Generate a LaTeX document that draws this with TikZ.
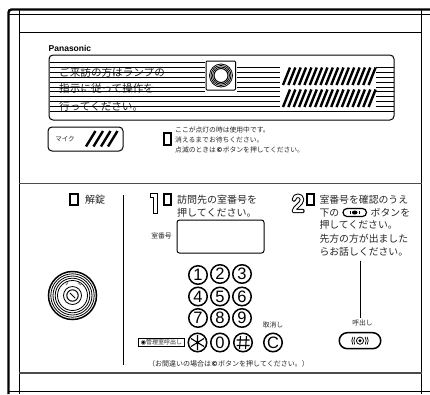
\documentclass[tikz,border=0pt]{standalone}
\usepackage{fontspec}
\usetikzlibrary{shapes.misc}
\setmainfont{Liberation Sans}
\newfontfamily\jp{Noto Sans CJK JP}
\newfontfamily\djv{DejaVu Sans}
\newcommand{\csym}{\textcolor{black}{{\djv\bfseries ©}}}
\tikzset{
 frameline/.style={line width=1pt,black},
 grayline/.style={line width=1.6pt,black!70},
 slash/.style={line width=2.4pt,black},
 grille/.style={line width=.75pt,black},
 lamp/.style={draw,line width=2pt,minimum width=7.5pt,minimum height=11.5pt,inner sep=0pt},
 jptext/.style={inner sep=0pt,anchor=west,text=black!85,font=\jp\fontsize{#1}{#1}\selectfont},
 jpmid/.style={inner sep=0pt,anchor=center,text=black!85,font=\jp\fontsize{#1}{#1}\selectfont},
 keycap/.style={draw,circle,line width=1.5pt,minimum size=18.5pt,inner sep=0pt,font=\fontsize{16.5}{16.5}\selectfont},
}
\begin{document}
\begin{tikzpicture}[x=1pt,y=-1pt]
\useasboundingbox (0,0) rectangle (430,394);
\fill[white] (0,0) rectangle (430,394);
% frame
\draw[line width=2.4pt] (8.5,394) -- (8.5,14) [rounded corners=3pt] -- (8.5,9.5) -- (430,9.5);
\draw[frameline] (9,14) -- (430,14);
\draw[frameline] (19,10) -- (19,394);
\draw[frameline] (421.5,10) -- (421.5,394);
\draw[frameline] (19,32) -- (421.5,32);
\draw[grayline] (19,183.5) -- (421.5,183.5);
\draw[grayline] (19,373) -- (421.5,373);
\draw[frameline] (9,391.5) -- (430,391.5);
% panel text
\node[jptext=10.6] (s1) at (59,72) {ご来訪の方はランプの};
\node[jptext=10.6] (s2) at (59,88.5) {指示に従って操作を};
\node[jptext=10.6] (s3) at (59,106) {行ってください。};
% grille lines
\foreach \y in {62.7,67.7,72.5,77.3,82,87,91.7}{
  \draw[grille] (49.5,\y) -- (205,\y);}
\foreach \y in {96.5,101.3,106}{
  \draw[grille] (49.5,\y) -- (280,\y);}
\draw[grille] (49.5,111.5) -- (393.5,111.5);
\foreach \y in {67.7,72.5,77.3,82,87,91.7}{
  \draw[grille] (237,\y) -- (280,\y);}
\foreach \y in {67.7,72.5,77.3,82,87,91.7,96.5,101.3,106}{
  \draw[grille] (376,\y) -- (393.5,\y);}
% panel outline
\draw[line width=1pt,rounded corners=4pt] (49,55) rectangle (394,120);
\node[inner sep=0pt,anchor=west,font=\bfseries\fontsize{8.5}{8.5}\selectfont] (pana) at (48.5,48) {Panasonic};
% lamp box
\draw[line width=1pt,rounded corners=1pt,fill=white] (206,61) rectangle (235.5,90);
\foreach \r/\w in {11.5/.8,10/.8,8.5/.8,7/1}{\draw[line width=\w pt] (221,75.5) circle (\r);}
% slashes
\foreach \i in {0,...,16}{
  \draw[slash] ({283+5.35*\i},85) -- ({290+5.35*\i},67.5);
  \draw[slash] ({283+5.35*\i},107) -- ({290+5.35*\i},89.5);
}
% mic
\draw[line width=1pt,rounded corners=4pt] (48,127) rectangle (123,151);
\node[jpmid=6.5] (mic) at (65,139) {マイク};
\foreach \x in {86,93.5,101,108}{\draw[line width=2.4pt] (\x,146.5) -- (\x+9.5,131);}
% indicator notes
\node[lamp] (l0) at (167.5,139) {};
\node[jptext=6.8] (n1) at (175,130) {ここが点灯の時は使用中です。};
\node[jptext=6.8] (n2) at (175,140) {消えるまでお待ちください。};
\node[jptext=6.8] (n3) at (175,150) {点滅のときは\csym ボタンを押してください。};
% left column
\node[lamp] (l1) at (74,199.5) {};
\node[jpmid=10] (unlock) at (95,200) {解錠};
\draw[frameline] (123,195) -- (123,365);
% key
\foreach \r/\w in {24/1.5,21.7/.8,19.5/.8,17.3/.8,15/.8,9/.8,5.7/1}{\draw[line width=\w pt] (72.5,295.5) circle (\r);}
\draw[line width=1.2pt,black!45] (66,285) -- (68,282.5);
\draw[line width=1.2pt,black!45] (78,282.5) -- (81,285);
\draw[line width=1pt] (70,293) -- (75,298);
% step 1
\draw[line width=1pt,fill=white] (150.5,193.5) -- (157.5,193.5) -- (157.5,213) -- (153,213) -- (153,197) -- (150.5,197) -- cycle;
\node[lamp] (l2) at (167.5,199.5) {};
\node[jptext=10] (a1) at (177,200) {訪問先の室番号を};
\node[jptext=10] (a2) at (177,213) {押してください。};
\draw[line width=1pt,rounded corners=2.5pt] (177,220) rectangle (264,253);
\node[jpmid=6.8] (room) at (161.5,236) {室番号};
% keypad
\node[keycap] (k1) at (198,275) {1};
\node[keycap] (k2) at (220,274) {2};
\node[keycap] (k3) at (242,274) {3};
\node[keycap] (k4) at (198,296.5) {4};
\node[keycap] (k5) at (220,296.5) {5};
\node[keycap] (k6) at (242,296.5) {6};
\node[keycap] (k7) at (198,318) {7};
\node[keycap] (k8) at (220,318) {8};
\node[keycap] (k9) at (242,318) {9};
\node[keycap] (kstar) at (197.5,342.5) {};
\node[keycap] (k0) at (220,342.5) {0};
\node[keycap] (khash) at (243,342.5) {};
\node[keycap] (kc) at (273,342.5) {C};
\draw[line width=1.1pt] (197.5,335) -- (197.5,350) (191,338.5) -- (204,346.5) (191,346.5) -- (204,338.5);
\draw[line width=1.1pt] (240.5,336) -- (239.5,349) (246.5,336) -- (245.5,349) (236.5,340) -- (249.5,340) (236.5,345.5) -- (249.5,345.5);
\node[jpmid=6.8] (cancel) at (273,325) {取消し};
\draw[line width=.8pt] (138.5,338.5) rectangle (184.5,346);
\node[jpmid=6] (mgr) at (161.5,342.3) {\textcolor{black}{{\djv ◉}}管理室呼出し};
\node[jptext=7] (foot) at (148,363.5) {（お間違いの場合は\csym ボタンを押してください。）};
% step 2
\draw[line width=4.4pt,line cap=round,line join=round] (294,199.5) .. controls (294,194.5) and (302,194.5) .. (302,199.5) .. controls (302,204) and (294.5,207) .. (293.8,211) -- (302.5,211);
\draw[line width=2.4pt,white,line cap=round,line join=round] (294,199.5) .. controls (294,194.5) and (302,194.5) .. (302,199.5) .. controls (302,204) and (294.5,207) .. (293.8,211) -- (302.5,211);
\node[lamp] (l3) at (310.5,199.5) {};
\node[jptext=9.85] (b1) at (319.3,199.5) {室番号を確認のうえ};
\node[jptext=9.85] (b2a) at (319.3,212.7) {下の};
\draw[line width=1.2pt,rounded corners=4pt] (343,208.5) rectangle (366.5,216.5);
\fill (354.7,212.5) ellipse (2.8 and 2);
\draw[line width=.7pt] (350,210.8) -- (350,214.2) (359.4,210.8) -- (359.4,214.2);
\node[jptext=9.85] (b2b) at (370.5,212.7) {ボタンを};
\node[jptext=9.85] (b3) at (319.3,225) {押してください。};
\node[jptext=9.85] (b4) at (319.3,238.5) {先方の方が出ました};
\node[jptext=9.85] (b5) at (319.3,252) {らお話しください。};
\coordinate (lt) at (360.7,260.5); \coordinate (lb) at (360.7,318);
\draw[line width=1.2pt] (lt) -- (lb);
\node[jpmid=6.8] (call) at (362.5,323) {呼出し};
\node[draw,rounded rectangle,line width=1.5pt,minimum width=41.5pt,minimum height=16pt,inner sep=0pt] (btn) at (360,340.7) {};
\draw[line width=.8pt] (360,340.7) circle (3.6);
\fill (360,340.7) circle (1.7);
\foreach \s in {-1,1}{
 \draw[line width=.7pt] (360+\s*5.2,337) .. controls (360+\s*6.5,339.5) and (360+\s*6.5,342) .. (360+\s*5.2,344.5);
 \draw[line width=.7pt] (360+\s*7.2,337) .. controls (360+\s*8.5,339.5) and (360+\s*8.5,342) .. (360+\s*7.2,344.5);
}
\end{tikzpicture}
\end{document}
